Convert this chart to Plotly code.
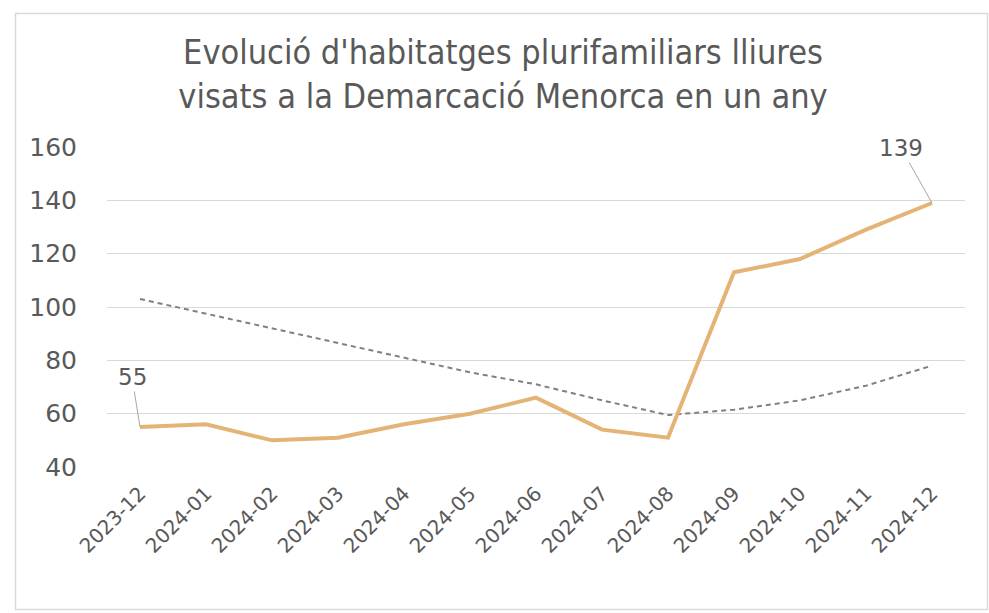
import plotly.graph_objects as go

# Monthly data
months = ["2023-12", "2024-01", "2024-02", "2024-03", "2024-04", "2024-05", "2024-06",
          "2024-07", "2024-08", "2024-09", "2024-10", "2024-11", "2024-12"]
visats = [55, 56, 50, 51, 56, 60, 66, 54, 51, 113, 118, 129, 139]
tendencia = [103, 97.5, 92, 86.5, 81, 75.5, 71, 65, 59.5, 61.5, 65, 70.5, 78]
y_ticks = [40, 60, 80, 100, 120, 140, 160]

title_text = "Evolució d'habitatges plurifamiliars lliures<br>visats a la Demarcació Menorca en un any"

text_grey = "#595959"
grid_grey = "#d9d9d9"
line_colour = "#E3B475"
tick_font = "DejaVu Sans"

fig = go.Figure()

fig.add_trace(go.Scatter(
    x=months, y=tendencia, mode="lines",
    line=dict(color="#808080", width=2, dash="5px,4px"),
    hoverinfo="skip", showlegend=False,
))
fig.add_trace(go.Scatter(
    x=months, y=visats, mode="lines",
    line=dict(color=line_colour, width=4),
    showlegend=False,
))

# value labels at the first and last point
for idx, (ax, ay) in [(0, (-8, -50)), (len(months) - 1, (-31, -55))]:
    fig.add_annotation(
        x=months[idx], y=visats[idx], text=str(visats[idx]),
        showarrow=True, arrowhead=0, arrowwidth=1, arrowcolor="#a6a6a6",
        ax=ax, ay=ay, font=dict(family=tick_font, size=23, color=text_grey),
    )

# outer chart border
fig.add_shape(type="rect", xref="paper", yref="paper",
              x0=-0.1066, x1=1.0262, y0=-0.445, y1=1.417,
              line=dict(color=grid_grey, width=1.5), fillcolor="rgba(0,0,0,0)")

fig.update_layout(
    width=989, height=613,
    margin=dict(l=107, r=24, t=147, b=146),
    paper_bgcolor="white", plot_bgcolor="white",
    title=dict(text=title_text, x=0.5086, xref="container", xanchor="center",
               y=0.896, yanchor="top",
               font=dict(family="DejaVu Sans Condensed", size=34, color=text_grey)),
    xaxis=dict(type="category", range=[-0.5, len(months) - 0.5],
               showgrid=False, zeroline=False, showline=False,
               tickangle=-45, ticks="outside", ticklen=6, tickcolor="rgba(0,0,0,0)",
               tickfont=dict(family=tick_font, size=20, color=text_grey)),
    yaxis=dict(range=[40, 160], tickvals=y_ticks,
               showgrid=True, gridcolor=grid_grey, gridwidth=1,
               zeroline=False, showline=False,
               ticks="outside", ticklen=24, tickcolor="rgba(0,0,0,0)",
               tickfont=dict(family=tick_font, size=25, color=text_grey)),
)

fig.write_html("out.html")
